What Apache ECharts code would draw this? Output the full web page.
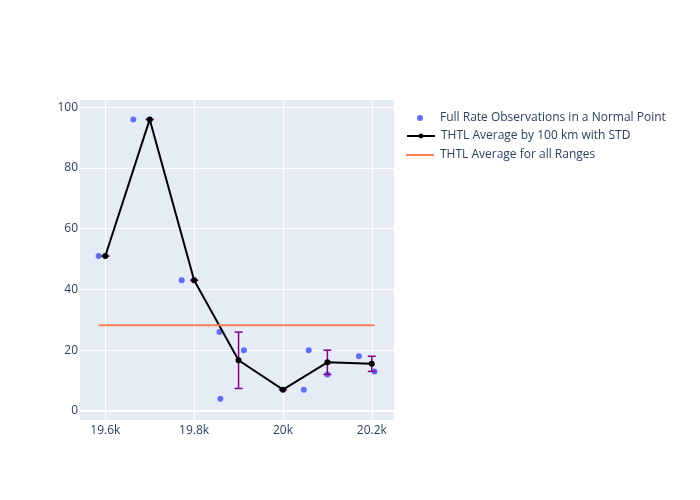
<!DOCTYPE html>
<html><head><meta charset="utf-8">
<script src="https://cdn.jsdelivr.net/npm/echarts@6/dist/echarts.min.js"></script>
<style>html,body{margin:0;padding:0;background:#fff}#c{width:700px;height:500px}</style>
</head><body><div id="c"></div>
<script>
const scatterX = [19585, 19663, 19772, 19857, 19859, 19912, 20047, 20058, 20100, 20171, 20206];
const scatterY = [51, 96, 43, 26, 4, 20, 7, 20, 12, 18, 13];
const avgX = [19600, 19700, 19800, 19900, 20000, 20100, 20200];
const avgY = [51, 96, 43, 16.67, 7, 16, 15.5];
const avgStd = [0, 0, 0, 9.28, 0, 4, 2.5];
const overallX = [19585, 20206];
const overallY = 28.18;
const xTicks = [19600, 19800, 20000, 20200];
const yTicks = [0, 20, 40, 60, 80, 100];

const font = '"Open Sans", "Noto Sans", sans-serif';
const txt = '#2a3f5f';
const chart = echarts.init(document.getElementById('c'), null, {renderer: 'canvas'});
const names = ['Full Rate Observations in a Normal Point', 'THTL Average by 100 km with STD', 'THTL Average for all Ranges'];

chart.setOption({
  animation: false,
  textStyle: {fontFamily: font},
  grid: {left: 80, top: 100, width: 314, height: 320, show: true, backgroundColor: '#E5ECF6', borderWidth: 0},
  legend: [
    {data: [names[0]], left: 417, top: 112, padding: 0, itemWidth: 6, itemHeight: 6, itemGap: 0,
     textStyle: {color: txt, fontSize: 12, fontFamily: font, padding: [0, 0, 0, 12]}},
    {data: [names[1]], left: 406, top: 130, padding: 0, itemWidth: 28, itemHeight: 6, itemGap: 0,
     textStyle: {color: txt, fontSize: 12, fontFamily: font, padding: [0, 0, 0, 1]}},
    {data: [{name: names[2], icon: 'rect'}], left: 406, top: 149, padding: 0, itemWidth: 28, itemHeight: 2, itemGap: 0,
     textStyle: {color: txt, fontSize: 12, fontFamily: font, padding: [0, 0, 0, 1]}}
  ],
  xAxis: {
    type: 'value', min: 19543, max: 20250,
    axisLine: {show: false},
    axisTick: {show: false, customValues: xTicks},
    axisLabel: {customValues: xTicks, color: txt, fontSize: 12, fontFamily: font, margin: 5,
      formatter: v => (v / 1000) + 'k'},
    splitLine: {show: true, lineStyle: {color: '#fff', width: 1}}
  },
  yAxis: {
    type: 'value', min: -3, max: 102.4,
    axisLine: {show: false},
    axisTick: {show: false, customValues: yTicks},
    axisLabel: {customValues: yTicks, color: txt, fontSize: 12, fontFamily: font, margin: 2},
    splitLine: {show: true, lineStyle: {color: '#fff', width: 1}}
  },
  series: [
    {
      name: names[0], type: 'scatter', symbol: 'circle', symbolSize: 6,
      itemStyle: {color: '#636efa', opacity: 1},
      data: scatterX.map((x, i) => [x, scatterY[i]]),
      markLine: {silent: true, symbol: 'none', label: {show: false},
        lineStyle: {color: '#fff', width: 2, type: 'solid'}, data: [{yAxis: 0}]},
      z: 2
    },
    {
      type: 'custom', name: 'err', z: 3,
      data: avgX.map((x, i) => [x, avgY[i], avgStd[i]]),
      renderItem: (params, api) => {
        const x = api.value(0), y = api.value(1), s = api.value(2);
        const top = api.coord([x, y + s]), bot = api.coord([x, y - s]);
        const w = 4;
        const st = {stroke: '#800080', lineWidth: 1.5};
        return {type: 'group', children: [
          {type: 'line', shape: {x1: top[0], y1: top[1], x2: bot[0], y2: bot[1]}, style: st},
          {type: 'line', shape: {x1: top[0] - w, y1: top[1], x2: top[0] + w, y2: top[1]}, style: st},
          {type: 'line', shape: {x1: bot[0] - w, y1: bot[1], x2: bot[0] + w, y2: bot[1]}, style: st}
        ]};
      }
    },
    {
      name: names[1], type: 'line', symbol: 'circle', symbolSize: 6, z: 4,
      lineStyle: {color: '#000', width: 2}, itemStyle: {color: '#000'},
      data: avgX.map((x, i) => [x, avgY[i]])
    },
    {
      name: names[2], type: 'line', symbol: 'none', z: 5,
      lineStyle: {color: '#ff7f50', width: 2}, itemStyle: {color: '#ff7f50'},
      data: overallX.map(x => [x, overallY])
    }
  ]
});
</script>
</body></html>
